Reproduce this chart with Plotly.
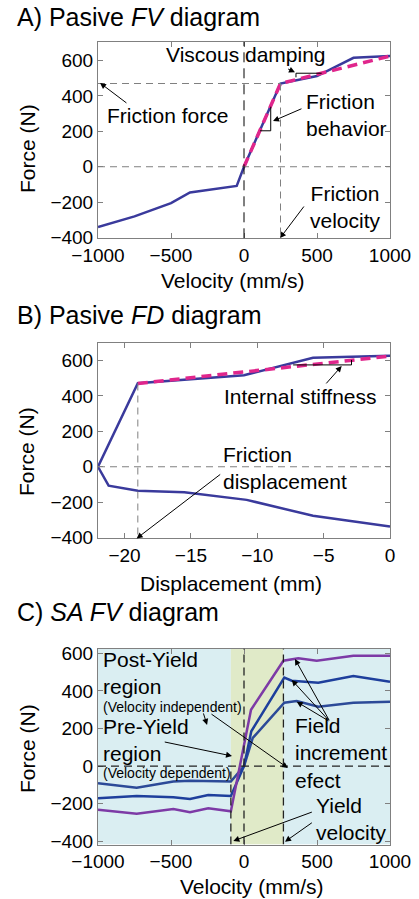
import plotly.graph_objects as go

# ---------------- data ----------------
# Panel A: passive force-velocity
vel_A = [-1000, -750, -500, -370, -50, 0, 250, 360, 500, 750, 1000]
force_A = [-340, -280, -205, -145, -108, 0, 470, 487, 512, 615, 625]
vel_A_model = [0, 250, 1000]
force_A_model = [0, 470, 625]

# Panel B: passive force-displacement
disp_B = [0, -5.8, -10.8, -15.5, -19.0, -21.2, -22.0, -19.0, -11.0, -5.8, 0]
force_B = [-337, -277, -187, -144, -135, -107, 0, 472, 517, 615, 627]
disp_B_model = [-19.0, 0]
force_B_model = [470, 625]

# Panel C: semi-active force-velocity (three field levels)
vel_C_high = [-1000, -735, -484, -370, -245, -90, 48, 270, 372, 498, 749, 1000]
force_C_high = [-232, -252, -227, -245, -224, -240, 300, 560, 573, 560, 587, 587]
vel_C_mid = [-1000, -735, -484, -370, -245, -90, 0, 50, 276, 327, 509, 749, 1000]
force_C_mid = [-171, -158, -165, -174, -153, -158, 0, 185, 470, 454, 443, 479, 449]
vel_C_low = [-1000, -735, -484, -370, -90, 0, 60, 276, 361, 509, 749, 1000]
force_C_low = [-91, -114, -82, -77, -82, 0, 150, 337, 346, 316, 337, 342]

friction_force = 470
friction_velocity = 250
friction_disp = -19.0
yield_vel_neg = -90
yield_vel_pos = 270

xticks_vel = [-1000, -500, 0, 500, 1000]
xticks_disp = [-20, -15, -10, -5, 0]
yticks_force = [-400, -200, 0, 200, 400, 600]

# ---------------- style ----------------
W, H = 419, 899
FONT = "Liberation Sans, Arial, sans-serif"
BLUE = "#3a3a9c"
MAGENTA = "#e0268c"
PURPLE = "#7d3aa6"
BLUE_C1 = "#1e3f9c"
BLUE_C2 = "#2c4a98"
GRAY = "#808080"
CYAN_BG = "#daeef2"
GREEN_BG = "#e0eac8"


def px_x(p):
    return p / W


def px_y(p):
    return 1 - p / H


fig = go.Figure()

fig.add_trace(go.Scatter(x=vel_A, y=force_A, mode="lines", line=dict(color=BLUE, width=2.5),
                         xaxis="x", yaxis="y", showlegend=False))
fig.add_trace(go.Scatter(x=vel_A_model, y=force_A_model, mode="lines",
                         line=dict(color=MAGENTA, width=3.5, dash="10px,6px"),
                         xaxis="x", yaxis="y", showlegend=False))

fig.add_trace(go.Scatter(x=disp_B, y=force_B, mode="lines", line=dict(color=BLUE, width=2.5),
                         xaxis="x2", yaxis="y2", showlegend=False))
fig.add_trace(go.Scatter(x=disp_B_model, y=force_B_model, mode="lines",
                         line=dict(color=MAGENTA, width=3.5, dash="10px,6px"),
                         xaxis="x2", yaxis="y2", showlegend=False))

fig.add_trace(go.Scatter(x=vel_C_low, y=force_C_low, mode="lines", line=dict(color=BLUE_C2, width=2.5),
                         xaxis="x3", yaxis="y3", showlegend=False))
fig.add_trace(go.Scatter(x=vel_C_mid, y=force_C_mid, mode="lines", line=dict(color=BLUE_C1, width=2.5),
                         xaxis="x3", yaxis="y3", showlegend=False))
fig.add_trace(go.Scatter(x=vel_C_high, y=force_C_high, mode="lines", line=dict(color=PURPLE, width=2.5),
                         xaxis="x3", yaxis="y3", showlegend=False))

axis_common = dict(showline=True, linecolor=GRAY, linewidth=1, mirror="ticks", ticks="inside",
                   ticklen=5, tickcolor=GRAY, showgrid=False, zeroline=False, automargin=False,
                   tickfont=dict(family=FONT, size=19, color="black"))

doms = {
    1: ([px_y(238.3), px_y(41.7)], [-404, 706]),
    2: ([px_y(538.3), px_y(343.3)], [-404, 697]),
    3: ([px_y(844.5), px_y(648.5)], [-416, 625]),
}
xdom = [px_x(98), px_x(390)]

layout = dict(width=W, height=H, margin=dict(l=0, r=0, t=0, b=0, autoexpand=False), autosize=False,
              paper_bgcolor="white", plot_bgcolor="white", font=dict(family=FONT, color="black"))
layout["xaxis"] = dict(axis_common, domain=xdom, anchor="y", range=[-1000, 1000], tickvals=xticks_vel)
layout["yaxis"] = dict(axis_common, domain=doms[1][0], anchor="x", range=doms[1][1], tickvals=yticks_force)
layout["xaxis2"] = dict(axis_common, domain=xdom, anchor="y2", range=[-22, 0], tickvals=xticks_disp)
layout["yaxis2"] = dict(axis_common, domain=doms[2][0], anchor="x2", range=doms[2][1], tickvals=yticks_force)
layout["xaxis3"] = dict(axis_common, domain=xdom, anchor="y3", range=[-1000, 1000], tickvals=xticks_vel)
layout["yaxis3"] = dict(axis_common, domain=doms[3][0], anchor="x3", range=doms[3][1], tickvals=yticks_force)
fig.update_layout(**layout)

shapes = []


def dline(xr, yr, x0, y0, x1, y1, color=GRAY, width=1, dash="7px,5px", layer="above"):
    shapes.append(dict(type="line", xref=xr, yref=yr, x0=x0, y0=y0, x1=x1, y1=y1,
                       line=dict(color=color, width=width, dash=dash), layer=layer))


# Panel A guides
dline("x", "y", -1000, 0, 1000, 0)
dline("x", "y", -1000, friction_force, friction_velocity, friction_force)
dline("x", "y", friction_velocity, friction_force, friction_velocity, -404)
dline("x", "y", 0, -404, 0, 706, color="black", dash="10px,6px")
# slope triangles A
dline("x", "y", 110, 203, 183, 203, color="black", dash="solid")
dline("x", "y", 183, 203, 183, 339, color="black", dash="solid")
dline("x", "y", 356, 528, 532, 528, color="black", dash="solid")
dline("x", "y", 356, 528, 356, 505, color="black", dash="solid")

# Panel B guides
dline("x2", "y2", -22, 0, 0, 0)
dline("x2", "y2", friction_disp, friction_force, friction_disp, -404)
dline("x2", "y2", -7.3, 575, -2.9, 575, color="black", dash="solid")
dline("x2", "y2", -2.9, 575, -2.9, 603, color="black", dash="solid")

# Panel C regions
shapes.append(dict(type="rect", xref="x3", yref="y3", x0=-1000, x1=yield_vel_neg, y0=-416, y1=625,
                   fillcolor=CYAN_BG, line=dict(width=0), layer="below"))
shapes.append(dict(type="rect", xref="x3", yref="y3", x0=yield_vel_neg, x1=yield_vel_pos, y0=-416, y1=625,
                   fillcolor=GREEN_BG, line=dict(width=0), layer="below"))
shapes.append(dict(type="rect", xref="x3", yref="y3", x0=yield_vel_pos, x1=1000, y0=-416, y1=625,
                   fillcolor=CYAN_BG, line=dict(width=0), layer="below"))
dline("x3", "y3", -1000, 0, 1000, 0, color="#222222", width=1.3, dash="8px,5px")
dline("x3", "y3", 0, -416, 0, 625, color="#222222", width=1.3, dash="8px,5px")
dline("x3", "y3", yield_vel_neg, -416, yield_vel_neg, 0, color="#222222", width=1.3, dash="8px,5px")
dline("x3", "y3", yield_vel_pos, -416, yield_vel_pos, 625, color="#222222", width=1.3, dash="8px,5px")

fig.update_layout(shapes=shapes)

ann = []


def text(xr, yr, x, y, s, size=21, xanchor="center", align="center"):
    ann.append(dict(xref=xr, yref=yr, x=x, y=y, text=s, showarrow=False, xanchor=xanchor,
                    yanchor="middle", align=align, font=dict(family=FONT, size=size, color="black")))


def arrow(xr, yr, x0, y0, x1, y1):
    ann.append(dict(xref=xr, yref=yr, axref=xr, ayref=yr, ax=x0, ay=y0, x=x1, y=y1, text="",
                    showarrow=True, arrowhead=2, arrowsize=1.2, arrowwidth=1, arrowcolor="black",
                    standoff=0, startstandoff=0))


# titles
for label, ypx in [("A) Pasive <i>FV</i> diagram", 17), ("B) Pasive <i>FD</i> diagram", 315),
                   ("C) <i>SA FV</i> diagram", 611.7)]:
    ann.append(dict(xref="paper", yref="paper", x=px_x(15), y=px_y(ypx), text=label, showarrow=False,
                    xanchor="left", yanchor="middle", font=dict(family=FONT, size=25, color="black")))

# axis titles
for label, xpx, ypx in [("Velocity (mm/s)", 233, 280), ("Displacement (mm)", 231, 583.3),
                        ("Velocity (mm/s)", 251.7, 886.7)]:
    ann.append(dict(xref="paper", yref="paper", x=px_x(xpx), y=px_y(ypx), text=label, showarrow=False,
                    xanchor="center", yanchor="middle", font=dict(family=FONT, size=21, color="black")))
for ypx in [149, 452, 749]:
    ann.append(dict(xref="paper", yref="paper", x=px_x(27), y=px_y(ypx), text="Force (N)", showarrow=False,
                    textangle=-90, xanchor="center", yanchor="middle",
                    font=dict(family=FONT, size=21, color="black")))

# Panel A annotations
text("x", "y", 12, 635, "Viscous damping")
arrow("x", "y", 292, 556, 349, 533)
text("x", "y", -527, 292, "Friction force")
arrow("x", "y", -795, 354, -986, 473)
text("x", "y", 411, 292, "Friction<br>behavior", xanchor="left", align="left")
arrow("x", "y", 404, 331, 199, 258)
text("x", "y", 692, -225, "Friction<br>velocity")
arrow("x", "y", 418, -216, 247, -403)

# Panel B annotations
text("x2", "y2", -6.78, 395, "Internal stiffness")
arrow("x2", "y2", -4.9, 462, -3.64, 569)
text("x2", "y2", -12.7, -5, "Friction<br>displacement", xanchor="left", align="left")
arrow("x2", "y2", -12.68, -37, -19.09, -405)

# Panel C annotations
text("x3", "y3", -979, 564, "Post-Yield", xanchor="left", align="left")
text("x3", "y3", -979, 422, "region", xanchor="left", align="left")
text("x3", "y3", -979, 316, "(Velocity independent)", size=14, xanchor="left", align="left")
text("x3", "y3", -979, 210, "Pre-Yield", xanchor="left", align="left")
text("x3", "y3", -979, 68, "region", xanchor="left", align="left")
text("x3", "y3", -979, -38, "(Velocity dependent)", size=14, xanchor="left", align="left")
arrow("x3", "y3", -281, 288, -253, 219)
arrow("x3", "y3", -233, 282, 301, -10)
arrow("x3", "y3", -553, 130, -82, 54)
text("x3", "y3", 338, 70, "Field<br>increment<br>efect", xanchor="left", align="left")
arrow("x3", "y3", 589, 236, 349, 569)
arrow("x3", "y3", 589, 236, 327, 458)
arrow("x3", "y3", 589, 236, 361, 342)
text("x3", "y3", 479, -280, "Yield<br>velocity", xanchor="left", align="left")
arrow("x3", "y3", 475, -241, -73, -397)
arrow("x3", "y3", 475, -295, 281, -401)

fig.update_layout(annotations=ann)

fig.write_html("out.html")
